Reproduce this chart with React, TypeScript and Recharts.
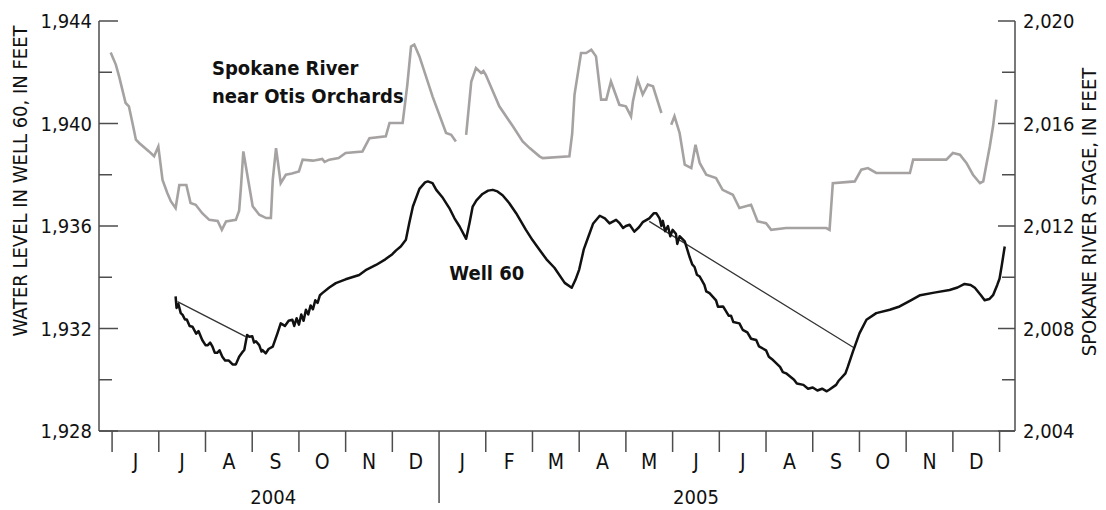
import { LineChart, Line, XAxis, YAxis, ReferenceDot } from 'recharts';

// x values are months counted from 1 June 2004 (0 = Jun 1 2004, 7 = Jan 1 2005)
const monthLabels = ['J', 'J', 'A', 'S', 'O', 'N', 'D', 'J', 'F', 'M', 'A', 'M', 'J', 'J', 'A', 'S', 'O', 'N', 'D'];
const monthTicks = monthLabels.map((_, i) => i).concat([19]);
const monthLabelTicks = monthLabels.map((_, i) => i + 0.5);
const yearLabels = ['2004', '2005'];
const yearTicks = [3.45, 12.5];
const wellTicks = [1928, 1930, 1932, 1934, 1936, 1938, 1940, 1942, 1944];
const riverTicks = [2004, 2006, 2008, 2010, 2012, 2014, 2016, 2018, 2020];

// Spokane River near Otis Orchards, stage in feet (null = gap in record)
const river: [number, number | null][] = [
  [-0.03, 2018.77], [0.08, 2018.3], [0.15, 2017.84], [0.29, 2016.8], [0.36, 2016.67], [0.45, 2015.9],
  [0.51, 2015.37], [0.58, 2015.24], [0.79, 2014.91], [0.9, 2014.72], [0.99, 2015.1], [1.08, 2013.8],
  [1.18, 2013.3], [1.26, 2012.96], [1.36, 2012.7], [1.44, 2013.6], [1.59, 2013.6], [1.68, 2012.9],
  [1.79, 2012.83], [1.93, 2012.5], [2.08, 2012.24], [2.26, 2012.2], [2.35, 2011.85], [2.44, 2012.18],
  [2.65, 2012.24], [2.72, 2012.6], [2.76, 2013.54], [2.81, 2014.91], [2.9, 2013.94], [3.01, 2012.77],
  [3.15, 2012.44], [3.3, 2012.31], [3.4, 2012.31], [3.44, 2013.8], [3.51, 2015.04], [3.61, 2013.67],
  [3.72, 2014.0], [3.85, 2014.05], [4.0, 2014.13], [4.08, 2014.59], [4.3, 2014.55], [4.5, 2014.62],
  [4.55, 2014.5], [4.65, 2014.59], [4.85, 2014.65], [5.0, 2014.85], [5.36, 2014.91], [5.51, 2015.43],
  [5.86, 2015.5], [5.94, 2016.02], [6.22, 2016.02], [6.32, 2017.5], [6.4, 2019.0], [6.47, 2019.08],
  [6.58, 2018.62], [6.86, 2017.06], [7.15, 2015.63], [7.26, 2015.56], [7.36, 2015.3],
  [7.47, null],
  [7.58, 2015.56], [7.69, 2017.64], [7.79, 2018.16], [7.9, 2017.97], [7.95, 2018.05], [8.0, 2017.9],
  [8.29, 2016.67], [8.58, 2015.89], [8.79, 2015.3], [8.94, 2015.04], [9.15, 2014.72], [9.22, 2014.65],
  [9.79, 2014.72], [9.85, 2015.6], [9.9, 2017.13], [10.04, 2018.75], [10.15, 2018.75], [10.26, 2018.88],
  [10.36, 2018.62], [10.47, 2016.93], [10.58, 2016.93], [10.68, 2017.64], [10.86, 2016.73], [11.0, 2016.67],
  [11.11, 2016.28], [11.15, 2016.86], [11.25, 2017.71], [11.36, 2017.13], [11.47, 2017.52], [11.58, 2017.45],
  [11.76, 2016.41],
  [11.86, null],
  [11.97, 2015.95], [12.04, 2016.28], [12.15, 2015.63], [12.26, 2014.39], [12.4, 2014.26], [12.49, 2015.17],
  [12.58, 2014.46], [12.72, 2014.0], [12.93, 2013.87], [13.07, 2013.41], [13.29, 2013.22], [13.43, 2012.7],
  [13.68, 2012.83], [13.82, 2012.18], [14.0, 2012.11], [14.11, 2011.85], [14.43, 2011.92], [14.86, 2011.92],
  [15.29, 2011.92], [15.36, 2011.85], [15.43, 2013.67], [15.9, 2013.74], [16.04, 2014.2], [16.18, 2014.26],
  [16.36, 2014.07], [17.08, 2014.07], [17.15, 2014.59], [17.86, 2014.59], [18.0, 2014.85], [18.15, 2014.78],
  [18.29, 2014.46], [18.43, 2014.0], [18.58, 2013.67], [18.65, 2013.74], [18.79, 2015.1], [18.86, 2015.89],
  [18.93, 2016.93],
];

// Well 60 water level, feet (recorder)
const well: [number, number][] = [
  [1.36, 1933.25], [1.38, 1932.8], [1.42, 1932.95], [1.47, 1932.6], [1.51, 1932.53], [1.56, 1932.35],
  [1.6, 1932.35], [1.66, 1932.1], [1.72, 1932.07], [1.8, 1931.8], [1.85, 1931.9], [1.93, 1931.55],
  [2.0, 1931.35], [2.05, 1931.35], [2.1, 1931.45], [2.15, 1931.29], [2.2, 1931.05], [2.25, 1931.05],
  [2.3, 1931.15], [2.36, 1930.9], [2.42, 1930.75], [2.5, 1930.75], [2.58, 1930.6], [2.65, 1930.6],
  [2.72, 1930.9], [2.8, 1931.1], [2.83, 1931.16], [2.89, 1931.75], [2.94, 1931.68], [3.0, 1931.7],
  [3.04, 1931.45], [3.08, 1931.5], [3.15, 1931.35], [3.2, 1931.1], [3.22, 1931.16], [3.29, 1931.03],
  [3.35, 1931.2], [3.44, 1931.29], [3.54, 1931.81], [3.61, 1932.2], [3.7, 1932.1], [3.78, 1932.3],
  [3.86, 1932.34], [3.9, 1932.1], [3.95, 1932.4], [4.0, 1932.15], [4.05, 1932.55], [4.1, 1932.3],
  [4.15, 1932.73], [4.2, 1932.55], [4.25, 1932.9], [4.3, 1932.75], [4.35, 1933.1], [4.4, 1933.0],
  [4.45, 1933.3], [4.5, 1933.38], [4.65, 1933.6], [4.79, 1933.77], [5.0, 1933.92], [5.29, 1934.09],
  [5.45, 1934.3], [5.65, 1934.48], [5.85, 1934.7], [6.0, 1934.9], [6.08, 1935.05], [6.18, 1935.2],
  [6.29, 1935.46], [6.36, 1936.1], [6.44, 1936.76], [6.58, 1937.45], [6.7, 1937.7], [6.76, 1937.74],
  [6.86, 1937.67], [6.94, 1937.41], [7.08, 1937.1], [7.22, 1936.7], [7.33, 1936.3], [7.44, 1935.98],
  [7.58, 1935.5], [7.65, 1936.1], [7.72, 1936.76], [7.8, 1937.0], [7.93, 1937.25], [8.05, 1937.38],
  [8.15, 1937.41], [8.25, 1937.35], [8.36, 1937.2], [8.5, 1936.9], [8.65, 1936.5], [8.86, 1935.85],
  [9.0, 1935.45], [9.15, 1935.07], [9.3, 1934.7], [9.47, 1934.37], [9.69, 1933.78], [9.84, 1933.59],
  [9.92, 1933.9], [10.0, 1934.3], [10.1, 1935.1], [10.2, 1935.6], [10.3, 1936.1], [10.44, 1936.4],
  [10.55, 1936.3], [10.65, 1936.1], [10.79, 1936.24], [10.87, 1936.1], [10.94, 1935.92], [11.0, 1936.0],
  [11.08, 1936.05], [11.18, 1935.78], [11.28, 1935.95], [11.36, 1936.15], [11.5, 1936.3], [11.6, 1936.5],
  [11.65, 1936.5], [11.72, 1936.3], [11.76, 1936.0], [11.79, 1936.2], [11.84, 1935.8], [11.9, 1936.0],
  [11.95, 1935.6], [12.0, 1935.85], [12.07, 1935.7], [12.1, 1935.3], [12.15, 1935.6], [12.26, 1935.4],
  [12.36, 1934.81], [12.42, 1934.5], [12.47, 1934.4], [12.52, 1934.1], [12.58, 1934.03], [12.68, 1933.7],
  [12.72, 1933.45], [12.79, 1933.38], [12.93, 1933.1], [12.97, 1932.85], [13.08, 1932.86], [13.2, 1932.5],
  [13.25, 1932.5], [13.3, 1932.25], [13.43, 1932.2], [13.5, 1931.95], [13.6, 1931.85], [13.68, 1931.6],
  [13.79, 1931.55], [13.85, 1931.3], [14.0, 1931.15], [14.06, 1930.9], [14.15, 1930.77], [14.3, 1930.5],
  [14.36, 1930.3], [14.43, 1930.25], [14.6, 1930.0], [14.66, 1929.85], [14.8, 1929.8], [14.9, 1929.65],
  [15.0, 1929.7], [15.1, 1929.58], [15.2, 1929.65], [15.3, 1929.55], [15.36, 1929.62], [15.5, 1929.8],
  [15.55, 1929.95], [15.6, 1930.05], [15.7, 1930.25], [15.75, 1930.5], [15.86, 1931.1], [16.0, 1931.81],
  [16.15, 1932.34], [16.36, 1932.6], [16.65, 1932.73], [16.86, 1932.86], [17.1, 1933.1], [17.3, 1933.3],
  [17.6, 1933.4], [17.93, 1933.5], [18.1, 1933.6], [18.25, 1933.74], [18.38, 1933.7], [18.47, 1933.59],
  [18.6, 1933.3], [18.68, 1933.1], [18.78, 1933.15], [18.86, 1933.3], [18.95, 1933.7], [19.0, 1933.95],
  [19.05, 1934.5], [19.11, 1935.2],
];

// straight connecting lines across the missing recorder periods
const wellGaps: [number, number | null][] = [
  [1.4, 1933.05], [2.86, 1931.68], [5.0, null], [11.5, 1936.18], [15.9, 1931.23],
];

const riverData = river.map(([m, v]) => ({ m, v }));
const wellData = well.map(([m, v]) => ({ m, v }));
const gapData = wellGaps.map(([m, v]) => ({ m, v }));

const FONT = "'Liberation Sans Narrow', 'Arial Narrow', 'DejaVu Sans Condensed', sans-serif";
const AXIS = '#4d4d4d';
const TEXT = '#111';
const X_DOMAIN = [-0.28, 19.33];

const MonthTick = ({ x, y, payload }: any) => (
  <line x1={x} y1={y} x2={x} y2={y + (payload.value === 7 ? 72 : 21)} stroke={AXIS} strokeWidth={1.5} />
);

const LeftTick = ({ x, y, payload }: any) => {
  const major = (payload.value - 1928) % 4 === 0;
  return (
    <g>
      <line x1={x} y1={y} x2={x + (major ? 19 : 13)} y2={y} stroke={AXIS} strokeWidth={1.5} />
      {major && (
        <text x={x - 7} y={y} dy="0.36em" textAnchor="end" fontSize={20} fill={TEXT} fontFamily={FONT}>
          {payload.value.toLocaleString('en-US')}
        </text>
      )}
    </g>
  );
};

const RightTick = ({ x, y, payload }: any) => {
  const major = (payload.value - 2004) % 4 === 0;
  return (
    <g>
      <line x1={x} y1={y} x2={x - (major ? 17 : 13)} y2={y} stroke={AXIS} strokeWidth={1.5} />
      {major && (
        <text x={x + 8} y={y} dy="0.36em" textAnchor="start" fontSize={20} fill={TEXT} fontFamily={FONT}>
          {payload.value.toLocaleString('en-US')}
        </text>
      )}
    </g>
  );
};

const TextTick = ({ x, y, payload, labels, ticks, dy, size }: any) => (
  <text x={x} y={y} dy={dy} textAnchor="middle" fontSize={size} fill={TEXT} fontFamily={FONT}>
    {labels[ticks.indexOf(payload.value)]}
  </text>
);

const Note = ({ cx, cy, lines }: any) => (
  <text x={cx} y={cy} fontSize={20} fontWeight="bold" fill={TEXT} fontFamily={FONT}>
    {lines.map((t: string, i: number) => (
      <tspan key={i} x={cx} dy={i === 0 ? 0 : 28}>{t}</tspan>
    ))}
  </text>
);

export default function App() {
  return (
    <div style={{ position: 'absolute', left: 0, top: 0, background: '#fff' }}>
      <LineChart width={1106} height={510} margin={{ top: 21, right: 0, bottom: 0, left: 0 }}>
        <XAxis
          xAxisId="b"
          type="number"
          dataKey="m"
          domain={X_DOMAIN}
          allowDataOverflow
          ticks={monthTicks}
          interval={0}
          height={21}
          tickSize={0}
          tickMargin={0}
          tickLine={false}
          tick={MonthTick}
          axisLine={{ stroke: AXIS, strokeWidth: 1.5 }}
        />
        <XAxis
          xAxisId="lbl"
          type="number"
          dataKey="m"
          domain={X_DOMAIN}
          allowDataOverflow
          ticks={monthLabelTicks}
          interval={0}
          height={36}
          tickSize={0}
          tickMargin={0}
          tickLine={false}
          axisLine={false}
          tick={(p: any) => <TextTick {...p} labels={monthLabels} ticks={monthLabelTicks} dy={17} size={21} />}
        />
        <XAxis
          xAxisId="yr"
          type="number"
          dataKey="m"
          domain={X_DOMAIN}
          allowDataOverflow
          ticks={yearTicks}
          interval={0}
          height={22}
          tickSize={0}
          tickMargin={0}
          tickLine={false}
          axisLine={false}
          tick={(p: any) => <TextTick {...p} labels={yearLabels} ticks={yearTicks} dy={16} size={20} />}
        />
        <XAxis
          xAxisId="t"
          orientation="top"
          type="number"
          dataKey="m"
          domain={X_DOMAIN}
          allowDataOverflow
          ticks={monthTicks}
          interval={0}
          height={0}
          mirror
          tickSize={21}
          tick={false}
          tickLine={{ stroke: AXIS, strokeWidth: 1.5 }}
          axisLine={{ stroke: AXIS, strokeWidth: 1.5 }}
        />
        <YAxis
          yAxisId="left"
          domain={[1928, 1944]}
          allowDataOverflow
          ticks={wellTicks}
          interval={0}
          width={99}
          tickSize={0}
          tickMargin={0}
          tickLine={false}
          tick={LeftTick}
          axisLine={{ stroke: AXIS, strokeWidth: 1.5 }}
          label={{
            content: () => (
              <text x={20} y={181} transform="rotate(-90 20 181)" textAnchor="middle" dominantBaseline="central"
                fontSize={20} fill={TEXT} fontFamily={FONT}>
                WATER LEVEL IN WELL 60, IN FEET
              </text>
            ),
          }}
        />
        <YAxis
          yAxisId="right"
          orientation="right"
          domain={[2004, 2020]}
          allowDataOverflow
          ticks={riverTicks}
          interval={0}
          width={91}
          tickSize={0}
          tickMargin={0}
          tickLine={false}
          tick={RightTick}
          axisLine={{ stroke: AXIS, strokeWidth: 1.5 }}
          label={{
            content: () => (
              <text x={1089} y={212} transform="rotate(-90 1089 212)" textAnchor="middle" dominantBaseline="central"
                fontSize={20} fill={TEXT} fontFamily={FONT}>
                SPOKANE RIVER STAGE, IN FEET
              </text>
            ),
          }}
        />
        <Line
          xAxisId="b"
          yAxisId="right"
          data={riverData}
          dataKey="v"
          type="linear"
          stroke="#a6a2a2"
          strokeWidth={2.6}
          dot={false}
          connectNulls={false}
          isAnimationActive={false}
        />
        <Line
          xAxisId="b"
          yAxisId="left"
          data={gapData}
          dataKey="v"
          type="linear"
          stroke="#333"
          strokeWidth={1.3}
          dot={false}
          connectNulls={false}
          isAnimationActive={false}
        />
        <Line
          xAxisId="b"
          yAxisId="left"
          data={wellData}
          dataKey="v"
          type="linear"
          stroke="#111"
          strokeWidth={2.5}
          strokeLinejoin="round"
          dot={false}
          isAnimationActive={false}
        />
        <ReferenceDot
          xAxisId="b"
          yAxisId="left"
          x={2.14}
          y={1941.9}
          r={0}
          shape={(p: any) => <Note {...p} lines={['Spokane River', 'near Otis Orchards']} />}
        />
        <ReferenceDot
          xAxisId="b"
          yAxisId="left"
          x={7.22}
          y={1933.9}
          r={0}
          shape={(p: any) => <Note {...p} lines={['Well 60']} />}
        />
      </LineChart>
    </div>
  );
}
